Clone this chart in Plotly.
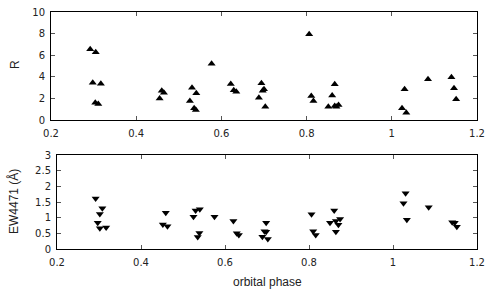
import plotly.graph_objects as go

# Top panel: R vs orbital phase
r_phase = [0.292, 0.305, 0.298, 0.317, 0.304, 0.311, 0.455, 0.460, 0.465, 0.531,
           0.541, 0.526, 0.536, 0.540, 0.577, 0.622, 0.629, 0.635, 0.688, 0.694,
           0.697, 0.700, 0.703, 0.806, 0.811, 0.816, 0.851, 0.860, 0.866, 0.866,
           0.870, 0.875, 1.024, 1.030, 1.034, 1.085, 1.140, 1.146, 1.151]
r_vals = [6.55, 6.27, 3.45, 3.36, 1.60, 1.48, 2.00, 2.71, 2.53, 2.99,
          2.47, 1.76, 1.08, 0.93, 5.21, 3.33, 2.75, 2.62, 2.07, 3.40,
          2.71, 2.84, 1.23, 7.93, 2.22, 1.76, 1.23, 2.28, 3.30, 1.30,
          1.23, 1.39, 1.08, 2.84, 0.68, 3.77, 3.95, 2.93, 1.92]

# Bottom panel: EW4471 vs orbital phase
ew_phase = [0.292, 0.308, 0.302, 0.297, 0.302, 0.317, 0.459, 0.452, 0.463, 0.525,
            0.530, 0.540, 0.539, 0.535, 0.575, 0.620, 0.628, 0.633, 0.698, 0.694,
            0.698, 0.689, 0.702, 0.806, 0.810, 0.816, 0.860, 0.850, 0.864, 0.874,
            0.870, 0.864, 1.030, 1.025, 1.033, 1.085, 1.141, 1.147, 1.152]
ew_vals = [1.61, 1.30, 1.12, 0.84, 0.66, 0.69, 1.16, 0.78, 0.73, 1.03,
           1.23, 1.27, 0.51, 0.38, 1.03, 0.89, 0.50, 0.45, 0.84, 0.57,
           0.55, 0.39, 0.32, 1.11, 0.57, 0.45, 1.23, 0.84, 0.89, 0.96,
           0.77, 0.55, 1.78, 1.46, 0.93, 1.33, 0.85, 0.84, 0.71]

x_ticks = [0.2, 0.4, 0.6, 0.8, 1.0, 1.2]
x_ticktext = ["0.2", "0.4", "0.6", "0.8", "1", "1.2"]
r_ticks = [0, 2, 4, 6, 8, 10]
ew_ticks = [0, 0.5, 1, 1.5, 2, 2.5, 3]
ew_ticktext = ["0", "0.5", "1", "1.5", "2", "2.5", "3"]

W, H = 491, 294


def px_x(p):
    return p / W


def px_y(p):
    return 1 - p / H


fig = go.Figure()
fig.add_trace(go.Scatter(x=r_phase, y=r_vals, mode="markers",
                         marker=dict(symbol="triangle-up", size=7, color="black"),
                         xaxis="x", yaxis="y", showlegend=False, cliponaxis=False))
fig.add_trace(go.Scatter(x=ew_phase, y=ew_vals, mode="markers",
                         marker=dict(symbol="triangle-down", size=7, color="black"),
                         xaxis="x2", yaxis="y2", showlegend=False, cliponaxis=False))

tick_font = dict(family="DejaVu Sans", size=10, color="#222")
title_font = dict(family="Liberation Sans", size=12, color="#222")
common = dict(showline=True, linecolor="black", linewidth=1, mirror="ticks",
              ticks="inside", ticklen=4, tickcolor="#555", showgrid=False,
              zeroline=False, tickfont=tick_font, automargin=False)

fig.update_layout(
    width=W, height=H, margin=dict(l=0, r=0, t=0, b=0, autoexpand=False),
    plot_bgcolor="white", paper_bgcolor="white",
    xaxis=dict(domain=[px_x(51), px_x(477)], range=[0.2, 1.2], tickvals=x_ticks,
               ticktext=x_ticktext, anchor="y", ticklabelstandoff=4, **common),
    yaxis=dict(domain=[px_y(120), px_y(12)], range=[0, 10], tickvals=r_ticks,
               anchor="x", ticklabelstandoff=3, **common),
    xaxis2=dict(domain=[px_x(57), px_x(477)], range=[0.2, 1.2], tickvals=x_ticks,
                ticktext=x_ticktext, anchor="y2", ticklabelstandoff=4, **common),
    yaxis2=dict(domain=[px_y(249), px_y(155)], range=[0, 3], tickvals=ew_ticks,
                ticktext=ew_ticktext, anchor="x2", ticklabelstandoff=3, **common),
    annotations=[
        dict(text="R", x=px_x(15), y=px_y(65), xref="paper", yref="paper",
             showarrow=False, textangle=-90, font=title_font,
             xanchor="center", yanchor="middle"),
        dict(text="EW4471 (Å)", x=px_x(13), y=px_y(202), xref="paper", yref="paper",
             showarrow=False, textangle=-90, font=title_font,
             xanchor="center", yanchor="middle"),
        dict(text="orbital phase", x=px_x(267), y=px_y(282), xref="paper", yref="paper",
             showarrow=False, font=title_font, xanchor="center", yanchor="middle"),
    ],
)
fig.write_html("out.html", config={"displayModeBar": False},
               post_script="document.body.style.margin='0';document.body.style.overflow='hidden';")
